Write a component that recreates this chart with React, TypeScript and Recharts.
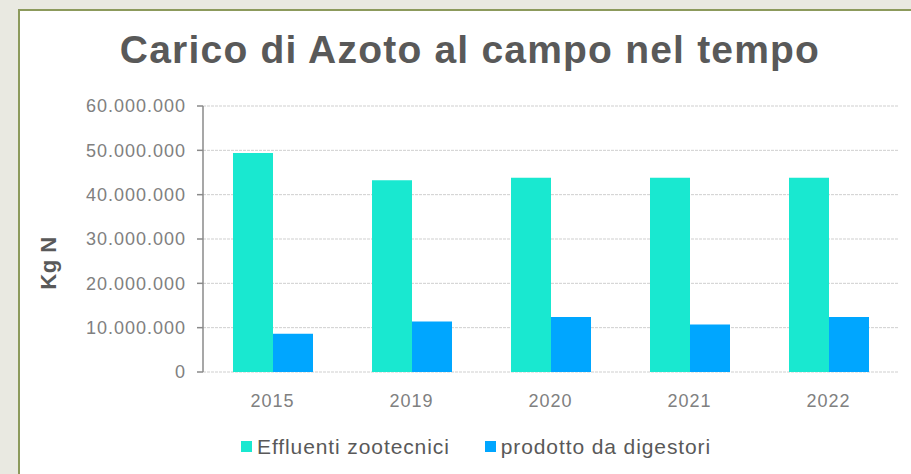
import React from 'react';
import { BarChart, Bar, XAxis, YAxis, CartesianGrid, Legend } from 'recharts';

const categories = ['2015', '2019', '2020', '2021', '2022'];
const effluenti = [49400000, 43250000, 43800000, 43800000, 43800000];
const digestori = [8650000, 11400000, 12400000, 10700000, 12400000];
const yTicks = [0, 10000000, 20000000, 30000000, 40000000, 50000000, 60000000];
const seriesNames = ['Effluenti zootecnici', 'prodotto da digestori'];
const titleText = 'Carico di Azoto al campo nel tempo';
const yAxisTitle = 'Kg N';

const data = categories.map((c, i) => ({ year: c, eff: effluenti[i], dig: digestori[i] }));

const FONT = '"Liberation Sans", Arial, sans-serif';

const fmt = (v: number) => String(v).replace(/\B(?=(\d{3})+(?!\d))/g, '.');

const renderLegend = (props: any) => {
  const { payload } = props;
  return (
    <div style={{ display: 'flex', alignItems: 'center', fontFamily: FONT, fontSize: 21, letterSpacing: 0.9, color: '#595959', lineHeight: '21px', whiteSpace: 'nowrap' }}>
      {(payload || []).map((p: any, i: number) => (
        <div key={i} style={{ display: 'flex', alignItems: 'center', marginRight: i === 0 ? 35 : 0 }}>
          <span style={{ display: 'inline-block', width: 11, height: 11, background: p.color, marginRight: 5 }} />
          <span>{p.value}</span>
        </div>
      ))}
    </div>
  );
};

const renderYLabel = (props: any) => {
  const vb = props.viewBox || { x: 0, y: 106, width: 203, height: 266 };
  const cx = vb.x + 48;
  const cy = vb.y + vb.height / 2 + 24;
  return (
    <text x={cx} y={cy} dy="0.36em" textAnchor="middle" transform={`rotate(-90, ${cx}, ${cy})`}
      fontFamily={FONT} fontSize={22} fontWeight="bold" letterSpacing={0.5} fill="#595959">
      {yAxisTitle}
    </text>
  );
};

export default function App() {
  return (
    <div style={{ position: 'absolute', left: 0, top: 0, width: 911, height: 474, overflow: 'hidden', background: '#E9E9E1' }}>
      <div style={{ position: 'absolute', left: 18, top: 9, width: 940, height: 500, background: '#FFFFFF', border: '2px solid #8C9A5C', boxSizing: 'border-box' }} />
      <div style={{ position: 'absolute', left: 0, top: 30, width: 940, textAlign: 'center', fontFamily: FONT, fontSize: 39, fontWeight: 'bold', letterSpacing: 1.2, lineHeight: '39px', color: '#595959', whiteSpace: 'nowrap' }}>
        {titleText}
      </div>
      <div style={{ position: 'absolute', left: 0, top: 0 }}>
        <BarChart width={911} height={474} data={data} margin={{ top: 106, right: 13, left: 0, bottom: 0 }} barCategoryGap={30} barGap={0}>
          <CartesianGrid vertical={false} stroke="#CFCFCF" strokeDasharray="3 1" />
          <XAxis dataKey="year" height={102} axisLine={false} tickLine={false} tickSize={6} tickMargin={16}
            tick={{ fontFamily: FONT, fontSize: 18, letterSpacing: 1, fill: '#808080' }} interval={0} />
          <YAxis width={203} domain={[0, 60000000]} ticks={yTicks} tickFormatter={fmt} interval={0}
            axisLine={{ stroke: '#8A8A8A', strokeWidth: 1.5 }} tickLine={{ stroke: '#8A8A8A', strokeWidth: 1.5 }} tickSize={6} tickMargin={11}
            tick={{ fontFamily: FONT, fontSize: 18, letterSpacing: 1, fill: '#808080' }}
            label={{ content: renderYLabel }} />
          <Legend verticalAlign="middle" align="center" layout="horizontal" content={renderLegend}
            wrapperStyle={{ left: 241, top: 436, width: 'auto', height: 'auto' }} />
          <Bar dataKey="eff" name={seriesNames[0]} fill="#19E8D0" isAnimationActive={false} />
          <Bar dataKey="dig" name={seriesNames[1]} fill="#00A6FF" isAnimationActive={false} />
        </BarChart>
      </div>
    </div>
  );
}
